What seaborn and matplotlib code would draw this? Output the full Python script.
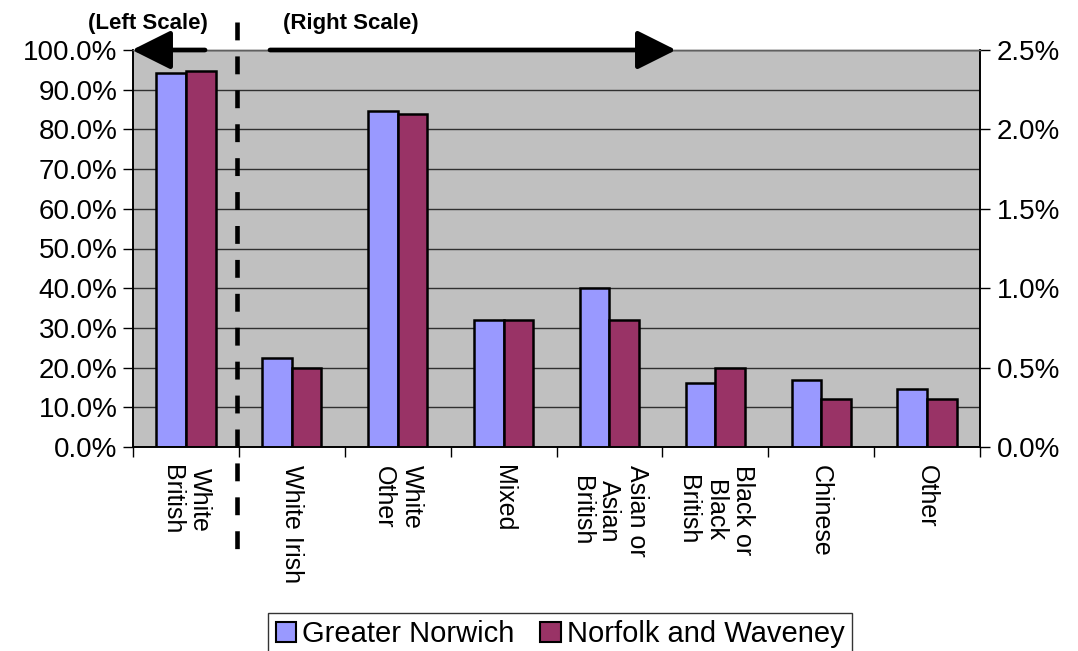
import matplotlib
matplotlib.use("Agg")
import matplotlib.pyplot as plt
import seaborn as sns
import pandas as pd
from matplotlib.lines import Line2D
from matplotlib.ticker import FuncFormatter, FixedLocator

categories = ["White\nBritish", "White Irish", "White\nOther", "Mixed",
              "Asian or\nAsian\nBritish", "Black or\nBlack\nBritish", "Chinese", "Other"]
series = ["Greater Norwich", "Norfolk and Waveney"]
# White British is read on the left scale (0-100 %), others on the right scale (0-2.5 %)
left_scale_categories = ["White\nBritish"]
greater_norwich = [94.3, 0.56, 2.115, 0.80, 1.00, 0.405, 0.42, 0.365]
norfolk_waveney = [94.6, 0.50, 2.10, 0.80, 0.80, 0.50, 0.30, 0.30]
left_ticks = [0, 10, 20, 30, 40, 50, 60, 70, 80, 90, 100]
right_ticks = [0.0, 0.5, 1.0, 1.5, 2.0, 2.5]
colors = ["#9999FF", "#993366"]

rows = []
for cat, a, b in zip(categories, greater_norwich, norfolk_waveney):
    rows.append({"cat": cat, "series": series[0], "val": a})
    rows.append({"cat": cat, "series": series[1], "val": b})
df = pd.DataFrame(rows)
df_left = df[df["cat"].isin(left_scale_categories)]
df_right = df[~df["cat"].isin(left_scale_categories)]

sns.set_style("white")
plt.rcParams["font.family"] = ["Liberation Sans", "DejaVu Sans"]
plt.rcParams["text.color"] = "black"
plt.rcParams["xtick.color"] = "black"
plt.rcParams["ytick.color"] = "black"
plt.rcParams["axes.labelcolor"] = "black"

W, H = 1078, 651
fig = plt.figure(figsize=(W / 100, H / 100), dpi=100)
ax1 = fig.add_axes([133 / W, (H - 447) / H, 847 / W, 397 / H])
ax1.set_facecolor("#C0C0C0")
ax2 = ax1.twinx()

sns.barplot(data=df_left, x="cat", y="val", hue="series", order=categories,
            hue_order=series, palette=colors, width=0.56, edgecolor="black",
            linewidth=1.8, ax=ax1, legend=False, errorbar=None, saturation=1)
sns.barplot(data=df_right, x="cat", y="val", hue="series", order=categories,
            hue_order=series, palette=colors, width=0.56, edgecolor="black",
            linewidth=1.8, ax=ax2, legend=False, errorbar=None, saturation=1)

ax1.set_ylim(0, 100)
ax2.set_ylim(0, 2.5)
ax1.set_xlim(-0.5, len(categories) - 0.5)
ax1.set_yticks(left_ticks)
ax2.set_yticks(right_ticks)
ax1.yaxis.set_major_formatter(FuncFormatter(lambda v, p: f"{v:.1f}%"))
ax2.yaxis.set_major_formatter(FuncFormatter(lambda v, p: f"{v:.1f}%"))
ax1.grid(axis="y", color="#303030", linewidth=1.0)
ax1.set_axisbelow(True)
ax2.grid(False)
ax1.set_xlabel("")
ax1.set_ylabel("")
ax2.set_xlabel("")
ax2.set_ylabel("")

# x ticks at boundaries, labels in between
ax1.xaxis.set_major_locator(FixedLocator([i - 0.5 for i in range(len(categories) + 1)]))
ax1.xaxis.set_major_formatter(FuncFormatter(lambda v, p: ""))
ax1.xaxis.set_minor_locator(FixedLocator(list(range(len(categories)))))
ax1.set_xticklabels(categories, minor=True, rotation=-90, ha="center", va="top",
                    multialignment="center", fontsize=18, linespacing=1.2, color="black")
ax1.tick_params(axis="x", which="major", direction="out", length=7, width=1, color="black", bottom=True)
ax1.tick_params(axis="x", which="minor", length=0, pad=13)
ax1.tick_params(axis="y", direction="out", length=7, width=1, color="black", labelcolor="black",
                labelsize=20, left=True, pad=4)
ax2.tick_params(axis="y", direction="out", length=7, width=1, color="black", labelcolor="black",
                labelsize=20, right=True, pad=5)
ax2.tick_params(axis="x", which="both", bottom=False, labelbottom=False)

for a in (ax1, ax2):
    for s in ["left", "right", "bottom"]:
        a.spines[s].set_visible(True)
        a.spines[s].set_color("black")
        a.spines[s].set_linewidth(1.2)
    a.spines["top"].set_visible(True)
    a.spines["top"].set_color("#606060")
    a.spines["top"].set_linewidth(1.0)

# Dashed divider and scale arrows (figure pixels)
def fy(y):
    return (H - y) / H

fig.add_artist(Line2D([237 / W, 237 / W], [fy(22), fy(552)], color="black",
                      linewidth=3.3, linestyle=(0, (3.9, 3.5)), transform=fig.transFigure))
arrow_kw = dict(arrowstyle="-|>,head_length=1.2,head_width=0.6", color="black",
                lw=3.4, mutation_scale=20, shrinkA=0, shrinkB=0)
fig.add_artist(matplotlib.patches.FancyArrowPatch((205 / W, fy(50)), (132 / W, fy(50)),
                                                  transform=fig.transFigure, **arrow_kw))
fig.add_artist(matplotlib.patches.FancyArrowPatch((270 / W, fy(50)), (676 / W, fy(50)),
                                                  transform=fig.transFigure, **arrow_kw))
fig.text(148 / W, fy(24), "(Left Scale)", ha="center", va="center", fontsize=16,
         fontweight="bold", color="black")
fig.text(351 / W, fy(24), "(Right Scale)", ha="center", va="center", fontsize=16,
         fontweight="bold", color="black")

handles = [matplotlib.patches.Patch(facecolor=c, edgecolor="black", linewidth=1.5) for c in colors]
leg = fig.legend(handles, series, loc="center", bbox_to_anchor=(560 / W, fy(634)), ncol=2,
                 fontsize=21, frameon=True, fancybox=False, edgecolor="black",
                 handlelength=0.7, handleheight=0.7, handletextpad=0.2, columnspacing=0.9,
                 borderpad=0.25, borderaxespad=0, labelcolor="black")
leg.get_frame().set_linewidth(1.0)

fig.savefig("out.png", dpi=100, facecolor="white")
